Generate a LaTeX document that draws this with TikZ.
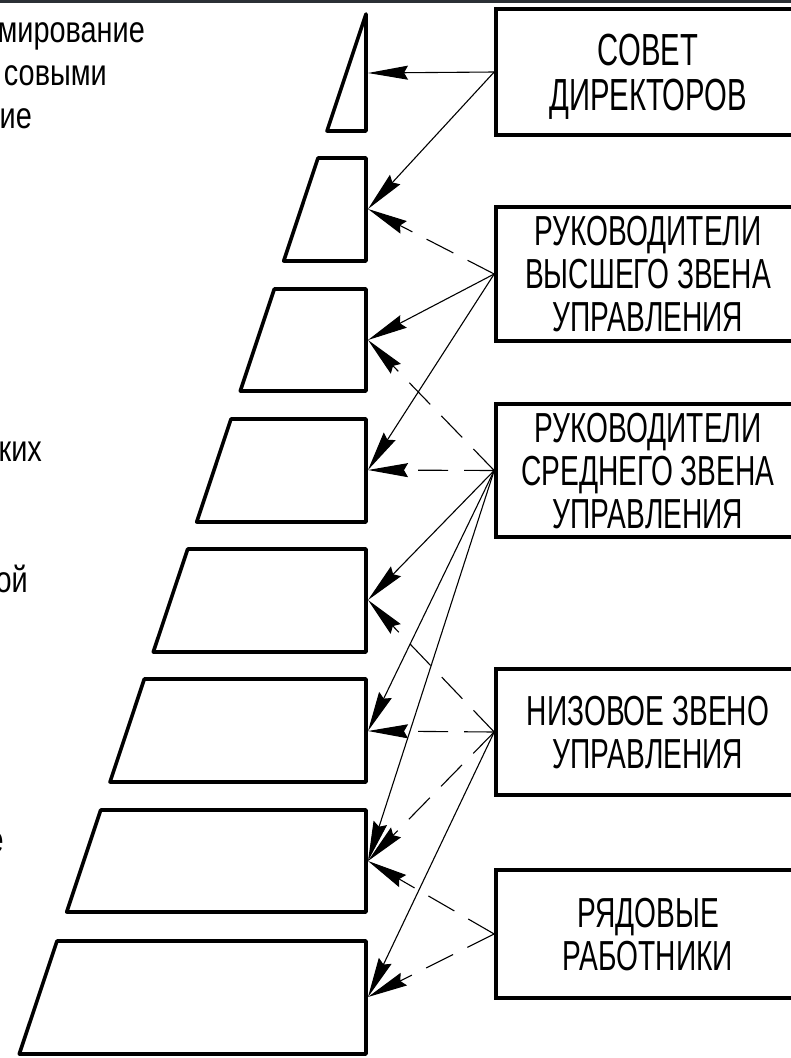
\documentclass[tikz,border=0pt]{standalone}
\usepackage{fontspec}
\setmainfont{Liberation Sans}
\newfontfamily\gost[FakeStretch=0.65]{Liberation Sans}
\newfontfamily\gostb[FakeStretch=0.67]{Liberation Sans}
\newfontfamily\gostl[FakeStretch=0.78]{Liberation Sans}
\usetikzlibrary{arrows.meta}
\definecolor{topbar}{HTML}{2B3035}
\begin{document}
\begin{tikzpicture}[x=1pt,y=-1pt,
  blk/.style={line width=3.6pt, line join=round},
  bx/.style={draw, line width=3.6pt, rectangle, inner sep=0pt, minimum width=304pt,
    align=center, font=\gostb\fontsize{42}{43}\selectfont, text depth=0pt},
  lt/.style={inner sep=0pt, font=\gostl\fontsize{37}{37}\selectfont},
  sol/.style={line width=1.1pt, -{Stealth[length=40pt,width=14pt,inset=4pt]}},
  das/.style={sol, dash pattern=on 30pt off 16pt},
]
\useasboundingbox (0,0) rectangle (791,1058);
\clip (0,0) rectangle (791,1058);
\fill[white] (0,0) rectangle (791,1058);
\fill[topbar] (0,0) rectangle (791,3);

% pyramid
\draw[blk] (366,14) -- (366,131) -- (327,131) -- cycle;
\draw[blk] (318,158) -- (366,158) -- (366,261) -- (283.7,261) -- cycle;
\draw[blk] (274.3,289) -- (366,289) -- (366,391) -- (240.3,391) -- cycle;
\draw[blk] (231,419) -- (366,419) -- (366,522) -- (196.7,522) -- cycle;
\draw[blk] (187.7,549) -- (366,549) -- (366,652) -- (153.3,652) -- cycle;
\draw[blk] (144.3,679) -- (366,679) -- (366,782) -- (110,782) -- cycle;
\draw[blk] (100.7,810) -- (366,810) -- (366,912) -- (66.7,912) -- cycle;
\draw[blk] (57,941) -- (366,941) -- (366,1054) -- (19.3,1054) -- cycle;

\coordinate (t1) at (368,73);
\coordinate (t2) at (368,209);
\coordinate (t3) at (368,340);
\coordinate (t4) at (368,470);
\coordinate (t5) at (368,600);
\coordinate (t6) at (368,731);
\coordinate (t7) at (368,861);
\coordinate (t8) at (368,997);

% boxes
\node[bx, minimum height=126pt, font=\gost\fontsize{45}{45}\selectfont] (b1) at (648,72) {СОВЕТ\\ДИРЕКТОРОВ};
\node[bx, minimum height=134pt] (b2) at (648,274) {РУКОВОДИТЕЛИ\\ВЫСШЕГО ЗВЕНА\\УПРАВЛЕНИЯ};
\node[bx, minimum height=133pt] (b3) at (648,470.5) {РУКОВОДИТЕЛИ\\СРЕДНЕГО ЗВЕНА\\УПРАВЛЕНИЯ};
\node[bx, minimum height=126pt] (b4) at (648,732) {НИЗОВОЕ ЗВЕНО\\УПРАВЛЕНИЯ};
\node[bx, minimum height=128pt] (b5) at (648,934) {РЯДОВЫЕ\\РАБОТНИКИ};

% connectors
\draw[sol] (b1.west) -- (t1);
\draw[sol] (b1.west) -- (t2);
\draw[das] (b2.west) -- (t2);
\draw[sol] (b2.west) -- (t3);
\draw[sol] (b2.west) -- (t4);
\draw[das] (b3.west) -- (t3);
\draw[das] (b3.west) -- (t4);
\draw[sol] (b3.west) -- (t5);
\draw[sol] (b3.west) -- (t6);
\draw[sol] (b3.west) -- (t7);
\draw[das] (b4.west) -- (t5);
\draw[das] (b4.west) -- (t6);
\draw[das] (b4.west) -- (t7);
\draw[sol] (b4.west) -- (t8);
\draw[das] (b5.west) -- (t7);
\draw[das] (b5.west) -- (t8);

% cut-off labels on the left
\node[lt, anchor=base east] (l1) at (145,42) {мирование};
\node[lt, anchor=base east] (l2) at (107,85) {совыми};
\node[lt, anchor=base east] (l3) at (32,128) {ие};
\node[lt, anchor=base east] (l4) at (42,461) {ких};
\node[lt, anchor=base east] (l5) at (28,592) {ой};
\node[lt, anchor=base east] (l6) at (4,852) {е};
\end{tikzpicture}
\end{document}
